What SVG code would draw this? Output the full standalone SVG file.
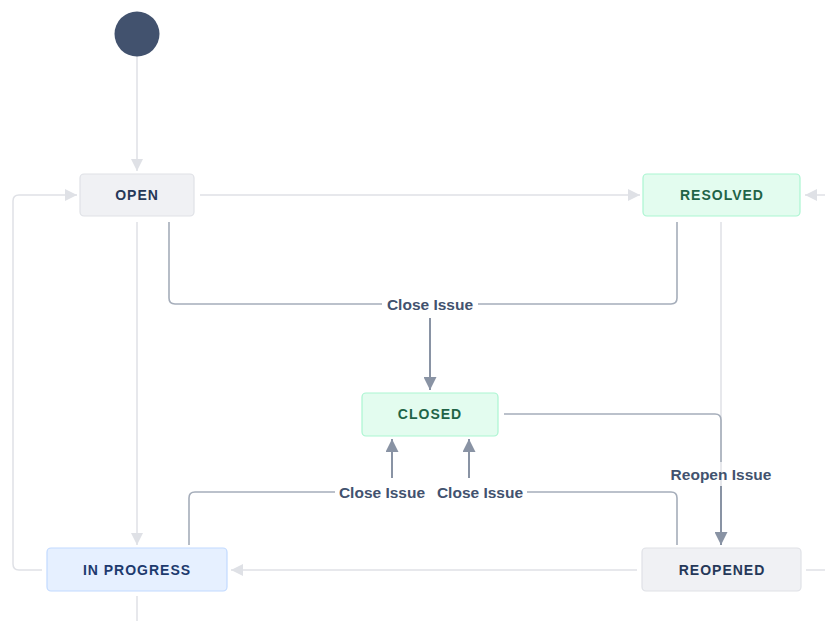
<svg xmlns="http://www.w3.org/2000/svg" width="825" height="621" viewBox="0 0 825 621">
<defs>
<style>
.lt{fill:none;stroke:#DFE1E6;stroke-width:1.5}
.dk{fill:none;stroke:#A5ADBA;stroke-width:1.6}
.ar{fill:none;stroke:#8993A4;stroke-width:2}
.nd{stroke-width:1.2}
.gray{fill:#F0F1F4;stroke:#DFE1E6}
.green{fill:#E3FCEF;stroke:#ABF5D1}
.blue{fill:#E6F0FF;stroke:#C2DAFF}
.nt{font-family:"Liberation Sans",Arial,sans-serif;font-size:14px;font-weight:bold;letter-spacing:1px;text-anchor:middle;dominant-baseline:central}
.lbl{font-family:"Liberation Sans",Arial,sans-serif;font-size:15.5px;font-weight:bold;fill:#42526E;text-anchor:middle;dominant-baseline:central}
</style>
<marker id="la" markerWidth="12" markerHeight="12" viewBox="0 0 12 12" refX="12" refY="6" orient="auto" markerUnits="userSpaceOnUse"><path d="M0,0 L12,6 L0,12 z" fill="#DFE1E6"/></marker>
<marker id="da" markerWidth="13" markerHeight="13" viewBox="0 0 13 13" refX="13" refY="6.5" orient="auto" markerUnits="userSpaceOnUse"><path d="M0,0 L13,6.5 L0,13 z" fill="#8993A4"/></marker>
</defs>
<rect width="825" height="621" fill="#FFFFFF"/>
<g id="connectors">
<path class="lt" d="M137,56 V171" marker-end="url(#la)"/>
<path class="lt" d="M200,195 H640" marker-end="url(#la)"/>
<path class="lt" d="M825,195 H805" marker-end="url(#la)"/>
<path class="lt" d="M42,570 H19 Q13,570 13,564 V201 Q13,195 19,195 H77" marker-end="url(#la)"/>
<path class="lt" d="M137,222 V545" marker-end="url(#la)"/>
<path class="lt" d="M721,222 V545"/>
<path class="lt" d="M637,570 H231" marker-end="url(#la)"/>
<path class="lt" d="M806,570 H825"/>
<path class="lt" d="M137,596 V621"/>
<path class="dk" d="M169,222 V298 Q169,304 175,304 H382"/>
<path class="dk" d="M677,222 V298 Q677,304 671,304 H478"/>
<path class="ar" d="M430,318 V390" marker-end="url(#da)"/>
<path class="dk" d="M189,545 V498 Q189,492 195,492 H335"/>
<path class="ar" d="M392,478 V439" marker-end="url(#da)"/>
<path class="dk" d="M677,545 V498 Q677,492 671,492 H527"/>
<path class="ar" d="M469,478 V439" marker-end="url(#da)"/>
<path class="dk" d="M504,414 H715 Q721,414 721,420 V462"/>
<path class="ar" d="M721,486 V545" marker-end="url(#da)"/>
<text class="lbl" x="430" y="304">Close Issue</text>
<text class="lbl" x="382" y="492">Close Issue</text>
<text class="lbl" x="480" y="492">Close Issue</text>
<text class="lbl" x="721" y="474">Reopen Issue</text>
</g>
<g id="start"><circle cx="137" cy="34" r="22.5" fill="#42526E"/></g>
<g id="open"><rect class="nd gray" x="80" y="174" width="114" height="42" rx="4"/><text class="nt" x="137" y="195" fill="#253858">OPEN</text></g>
<g id="resolved"><rect class="nd green" x="643" y="174" width="157" height="42" rx="4"/><text class="nt" x="722" y="195" fill="#1F6447">RESOLVED</text></g>
<g id="closed"><rect class="nd green" x="362" y="393" width="136" height="43" rx="4"/><text class="nt" x="430" y="414" fill="#1F6447">CLOSED</text></g>
<g id="inprogress"><rect class="nd blue" x="47" y="548" width="180" height="43" rx="4"/><text class="nt" x="137" y="570" fill="#1D3A6E">IN PROGRESS</text></g>
<g id="reopened"><rect class="nd gray" x="642" y="548" width="159" height="43" rx="4"/><text class="nt" x="722" y="570" fill="#253858">REOPENED</text></g>
</svg>
